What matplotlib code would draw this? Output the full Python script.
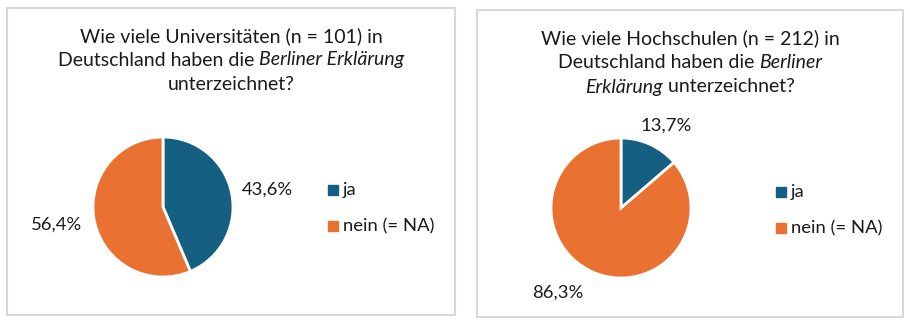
import numpy as np
import matplotlib
matplotlib.use("Agg")
import matplotlib.pyplot as plt
from matplotlib.patches import Rectangle
from matplotlib.lines import Line2D

# ---------------- DATA ----------------
categories = ["ja", "nein (= NA)"]
uni_values = [43.6, 56.4]
hs_values = [13.7, 86.3]

uni_title = [
    [("Wie viele Universitäten (n = 101) in", "normal")],
    [("Deutschland haben die ", "normal"), ("Berliner Erklärung", "italic")],
    [("unterzeichnet?", "normal")],
]
hs_title = [
    [("Wie viele Hochschulen (n = 212) in", "normal")],
    [("Deutschland haben die ", "normal"), ("Berliner", "italic")],
    [("Erklärung", "italic"), (" unterzeichnet?", "normal")],
]

# ---------------- STYLE ----------------
BLUE = "#156082"
ORANGE = "#E97132"
BORDER = "#D9D9D9"
TEXT = "#1a1a1a"
FONT = ["Lato", "DejaVu Sans"]
plt.rcParams["font.family"] = FONT

W, H = 910, 327
DPI = 100
fig = plt.figure(figsize=(W / DPI, H / DPI), dpi=DPI)
fig.patch.set_facecolor("white")
renderer = fig.canvas.get_renderer()


def px(x, y):
    # pixel coords (from top-left) -> figure fraction
    return x / W, 1 - y / H


def draw_panel(x0, y0, x1, y1):
    fx0, fy1 = px(x0, y0)
    fx1, fy0 = px(x1, y1)
    fig.patches.append(Rectangle((fx0, fy0), fx1 - fx0, fy1 - fy0,
                                 transform=fig.transFigure, fill=False,
                                 edgecolor=BORDER, linewidth=1.5))


def draw_title(lines, cx, ys, size=14):
    # each line can mix normal and italic pieces, so measure and center by hand
    for segs, y in zip(lines, ys):
        texts = []
        widths = []
        for s, style in segs:
            t = fig.text(0, 0, s, fontsize=size, style=style, color=TEXT,
                         va="center", ha="left")
            w = t.get_window_extent(renderer).width
            texts.append(t)
            widths.append(w)
        total = sum(widths)
        x = cx - total / 2
        for t, w in zip(texts, widths):
            t.set_position(px(x, y))
            x += w


def draw_pie(values, center, radius, label_dist, label_nudge):
    cx, cy = center
    box = 300
    fx, fy = px(cx - box / 2, cy + box / 2)
    ax = fig.add_axes([fx, fy, box / W, box / H])
    wedges, labels = ax.pie(values, colors=[BLUE, ORANGE], startangle=90,
                            counterclock=False,
                            labels=[f"{v:.1f}%".replace(".", ",") for v in values],
                            labeldistance=1.5,
                            wedgeprops=dict(edgecolor="white", linewidth=2),
                            textprops=dict(fontsize=13.3, color=TEXT))
    lim = box / 2 / radius
    ax.set_xlim(-lim, lim)
    ax.set_ylim(-lim, lim)
    ax.set_aspect("equal")
    ax.axis("off")
    for w, t, d, nudge in zip(wedges, labels, label_dist, label_nudge):
        ang = np.deg2rad((w.theta1 + w.theta2) / 2 + nudge)
        t.set_position((d * np.cos(ang), d * np.sin(ang)))
        t.set_ha("center")
        t.set_va("center")
    return ax


def draw_legend(x, ys, size=13.3):
    for cat, col, y in zip(categories, [BLUE, ORANGE], ys):
        fig.lines.append(Line2D([px(x, y)[0]], [px(x, y)[1]], marker="s",
                                markersize=6.5, color=col, linestyle="none",
                                transform=fig.transFigure))
        fig.text(*px(x + 10, y), cat, fontsize=size, color=TEXT,
                 va="center", ha="left")


# ---------------- LEFT PANEL ----------------
draw_panel(7, 8, 455, 315)
draw_title(uni_title, 231, [36, 60, 85])
draw_pie(uni_values, (163, 207), 70, [1.52, 1.54], [-2, -2])
draw_legend(333, [190, 226])

# ---------------- RIGHT PANEL ----------------
draw_panel(477, 10, 903, 317)
draw_title(hs_title, 690, [38, 62, 87])
draw_pie(hs_values, (621, 208), 70, [1.34, 1.51], [-4, -12])
draw_legend(781, [192, 228])

fig.savefig("out.png", dpi=DPI, facecolor="white")
